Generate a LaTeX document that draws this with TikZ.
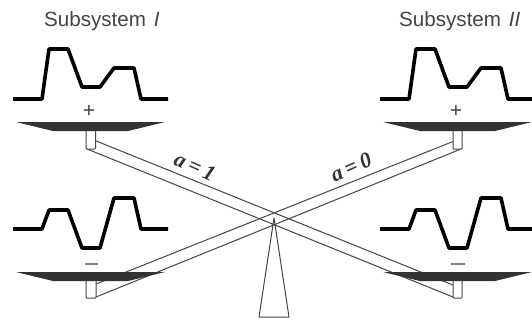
\documentclass[tikz,border=0pt]{standalone}
\usepackage{fontspec}
\setmainfont{Liberation Sans}
\newfontfamily\ser{Liberation Serif}
\definecolor{lab}{HTML}{444444}
\definecolor{ln}{HTML}{444444}
\definecolor{plt}{HTML}{333333}
\tikzset{
  wave/.style={line width=3.6pt,black,line join=round},
  plate/.style={fill=plt,draw=none},
  beam/.style={draw=ln,line width=1pt,line join=round},
  stem/.style={draw=ln,line width=1pt,fill=white,rounded corners=0.8pt},
  title/.style={text=lab,font=\fontsize{20.6}{22}\selectfont,inner sep=0pt},
  sign/.style={text=lab,font=\fontsize{21}{22}\selectfont,inner sep=0pt},
  beamlab/.style={text=plt,font=\ser\bfseries\itshape\fontsize{22}{24}\selectfont,inner sep=0pt},
}
\begin{document}
\begin{tikzpicture}[x=1pt,y=-1pt]
\useasboundingbox (0,0) rectangle (532,322);
\clip (0,0) rectangle (532,322);
\node[title,anchor=base west] (t1) at (44,26) {Subsystem\hspace{2pt} \textit{I}};
\node[title,anchor=base west] (t2) at (399,26) {Subsystem\hspace{2pt} \textit{II}};
% beams
\draw[beam] (95,140.5) -- (453,285) (87,149) -- (453,297);
\draw[beam] (453,141.5) -- (96,284) (461,149) -- (96,297);
% stems
\draw[stem] (86,128) rectangle (95.5,149);
\draw[stem] (453,128) rectangle (462,149);
\draw[stem] (86,278) rectangle (96,298);
\draw[stem] (453,278) rectangle (462,298);
% plates
\foreach \dx/\y in {0/122,0/272,367/122,367/272}{
  \fill[plate] (16+\dx,\y) -- (165+\dx,\y) -- (128+\dx,\y+9) -- (53+\dx,\y+9) -- cycle;
}
% waves
\foreach \dx in {0,367}{
  \draw[wave] (13+\dx,99) -- (42+\dx,99) -- (49+\dx,49) -- (68+\dx,49) -- (82+\dx,87) -- (100+\dx,87) -- (114+\dx,68) -- (134+\dx,68) -- (141+\dx,99) -- (168+\dx,99);
  \draw[wave] (13+\dx,229) -- (42+\dx,229) -- (49+\dx,210) -- (68+\dx,210) -- (82+\dx,248) -- (100+\dx,248) -- (114+\dx,198) -- (134+\dx,198) -- (141+\dx,229) -- (168+\dx,229);
}
\node[sign] (p1) at (89,111) {+};
\node[sign] (p2) at (456,111) {+};
\fill[gray] (85,263) rectangle (98,265.2);
\fill[gray] (451,263) rectangle (465,265.2);
% pivot
\draw[beam] (274,218) -- (289,317) -- (259,317) -- cycle;
\node[beamlab,rotate=-24] (a1) at (195,167) {a\hspace{-1.5pt} = \hspace{-1.5pt}1};
\node[beamlab,rotate=24] (a0) at (351,167) {a\hspace{-1.5pt} = \hspace{-1.5pt}0};
\end{tikzpicture}
\end{document}
